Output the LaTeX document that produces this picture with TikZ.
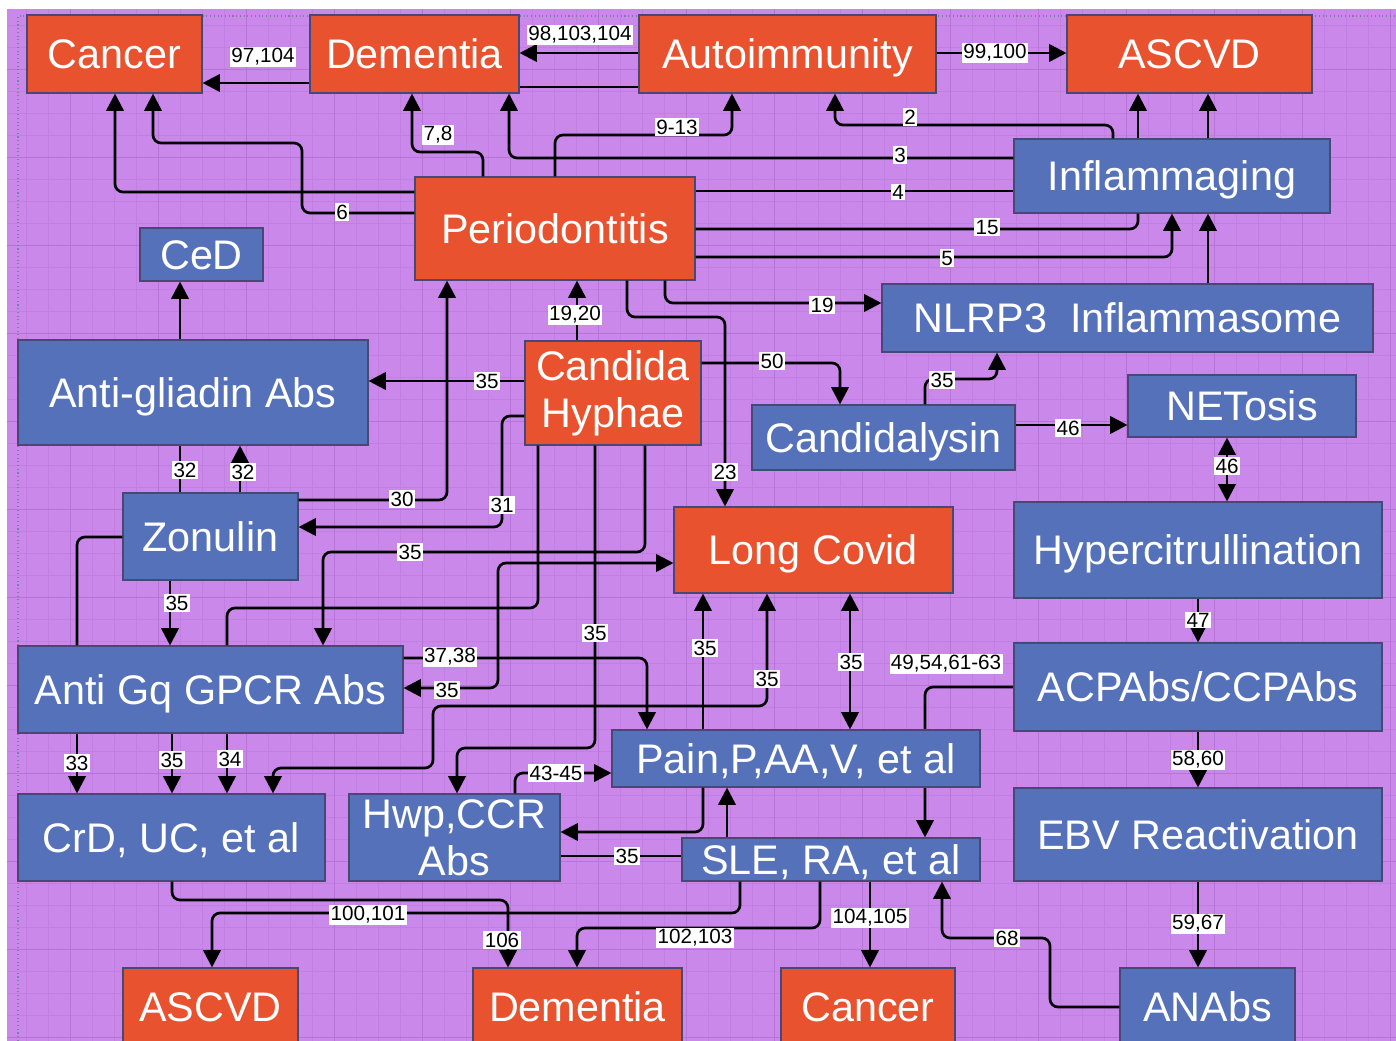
\documentclass[tikz,border=0pt]{standalone}
\usepackage{fontspec}
\setmainfont{Liberation Sans}
\usetikzlibrary{arrows.meta,backgrounds}

\definecolor{redbox}{RGB}{232,82,46}
\definecolor{bluebox}{RGB}{85,113,185}
\definecolor{bgpurple}{RGB}{202,136,235}
\definecolor{gridminor}{RGB}{193,127,226}
\definecolor{gridmajor}{RGB}{182,117,214}
\definecolor{boxedge}{RGB}{70,72,118}

\newcommand{\boxfont}{\fontsize{31}{35}\selectfont}
\newcommand{\lblfont}{\fontsize{15.5}{17}\selectfont}

\tikzset{
  obox/.style={draw=boxedge, line width=0.8pt, fill=redbox, text=white, font=\boxfont, inner sep=0pt, align=center},
  bbox/.style={obox, fill=bluebox},
  oneline/.style={text height=22pt, text depth=0pt},
  arr/.style={line width=2pt, rounded corners=6pt, -{Triangle[length=13pt,width=13pt]}},
  dbl/.style={line width=2pt, rounded corners=6pt, {Triangle[length=13pt,width=13pt]}-{Triangle[length=13pt,width=13pt]}},
  link/.style={line width=2pt, rounded corners=6pt},
  lbl/.style={fill=white, inner sep=1pt, text=black, font=\lblfont},
}

\begin{document}
\begin{tikzpicture}[x=0.75pt,y=0.75pt,yscale=-1,xscale=1]
\clip (0,0) rectangle (1396,1041);

% page and grid
\begin{scope}[on background layer]
\fill[white] (0,0) rectangle (1396,1041);
\fill[bgpurple] (7,9) rectangle (1396,1041);
\foreach \gx in {26,48,...,1396} \draw[gridminor, line width=0.5pt] (\gx,9) -- (\gx,1041);
\foreach \gy in {25,47,...,1041} \draw[gridminor, line width=0.5pt] (7,\gy) -- (1396,\gy);
\foreach \gx in {70,158,...,1396} \draw[gridmajor, line width=0.7pt] (\gx,9) -- (\gx,1041);
\foreach \gy in {69,157,...,1041} \draw[gridmajor, line width=0.7pt] (7,\gy) -- (1396,\gy);
\draw[boxedge!70, dotted, line width=0.8pt] (18,1041) -- (18,16) -- (1396,16);
\end{scope}

% top row
\node[obox, oneline, minimum width=131.25pt, minimum height=58.5pt] (cancerT) at (114.5,54) {Cancer};
\node[obox, oneline, minimum width=156.75pt, minimum height=58.5pt] (demT) at (414.5,54) {Dementia};
\node[obox, oneline, minimum width=222.75pt, minimum height=58.5pt] (autoimm) at (787.5,54) {Autoimmunity};
\node[obox, oneline, minimum width=183.75pt, minimum height=58.5pt] (ascvdT) at (1189.5,54) {ASCVD};

% upper middle
\node[bbox, oneline, minimum width=237pt, minimum height=55.5pt] (inflam) at (1172,176) {Inflammaging};
\node[obox, oneline, minimum width=210pt, minimum height=77.25pt] (perio) at (555,228.5) {Periodontitis};
\node[bbox, oneline, minimum width=92.25pt, minimum height=39.75pt] (ced) at (201.5,254.5) {CeD};
\node[bbox, oneline, minimum width=368.25pt, minimum height=51pt] (nlrp) at (1127.5,318) {NLRP3\ \ Inflammasome};
\node[bbox, oneline, minimum width=262.5pt, minimum height=78.75pt] (antigl) at (193,392.5) {Anti-gliadin Abs};
\node[obox, minimum width=132pt, minimum height=78pt] (candida) at (613,393) {Candida\\Hyphae};
\node[bbox, oneline, minimum width=197.25pt, minimum height=48.75pt] (candly) at (883.5,437.5) {Candidalysin};
\node[bbox, oneline, minimum width=171pt, minimum height=46.5pt] (netosis) at (1242,406) {NETosis};

% lower middle
\node[bbox, oneline, minimum width=131.25pt, minimum height=65.25pt] (zonulin) at (210.5,536.5) {Zonulin};
\node[obox, oneline, minimum width=209.25pt, minimum height=64.5pt] (lcovid) at (813.5,550) {Long Covid};
\node[bbox, oneline, minimum width=276pt, minimum height=72pt] (hyperc) at (1198,550) {Hypercitrullination};
\node[bbox, oneline, minimum width=288.75pt, minimum height=65.25pt] (antigq) at (210.5,689.5) {Anti Gq GPCR Abs};
\node[bbox, oneline, minimum width=276pt, minimum height=66pt] (acpa) at (1198,687) {ACPAbs/CCPAbs};
\node[bbox, oneline, minimum width=276pt, minimum height=42.75pt] (pain) at (796,758.5) {Pain,P,AA,V, et al};
\node[bbox, oneline, minimum width=230.25pt, minimum height=65.25pt] (crd) at (171.5,837.5) {CrD, UC, et al};
\node[bbox, minimum width=158.25pt, minimum height=65.25pt] (hwp) at (454.5,837.5) {Hwp,CCR\\Abs};
\node[bbox, oneline, minimum width=223.5pt, minimum height=32.25pt] (sle) at (831,859.5) {SLE, RA, et al};
\node[bbox, oneline, minimum width=276pt, minimum height=69.75pt] (ebv) at (1198,834.5) {EBV Reactivation};

% bottom row
\node[obox, oneline, minimum width=131.25pt, minimum height=58.5pt] (ascvdB) at (210.5,1007) {ASCVD};
\node[obox, oneline, minimum width=156.75pt, minimum height=58.5pt] (demB) at (577.5,1007) {Dementia};
\node[obox, oneline, minimum width=130.5pt, minimum height=58.5pt] (cancerB) at (868,1007) {Cancer};
\node[bbox, oneline, minimum width=131.25pt, minimum height=58.5pt] (anabs) at (1207.5,1007) {ANAbs};

% top links
\draw[arr] (demT.west |- 0,83) -- (cancerT.east |- 0,83);
\draw[arr] (autoimm.west |- 0,53) -- (demT.east |- 0,53);
\draw[link] (autoimm.west |- 0,87) -- (demT.east |- 0,87);
\draw[arr] (autoimm.east |- 0,53) -- (ascvdT.west |- 0,53);
\draw[arr] (perio.west |- 0,192) -| (cancerT.south -| 115,0);
\draw[arr] (perio.west |- 0,213) -| (302,143) -| (cancerT.south -| 153,0);
\draw[arr] (perio.north -| 483,0) |- (412,152) -- (demT.south -| 412,0);
\draw[arr] (inflam.west |- 0,158) -| (demT.south -| 509,0);
\draw[arr] (perio.north -| 555,0) |- (732,135) -- (autoimm.south -| 732,0);
\draw[arr] (inflam.north -| 1113,0) |- (835,125) -- (autoimm.south -| 835,0);
\draw[link] (perio.east |- 0,191) -- (inflam.west |- 0,191);
\draw[link] (perio.east |- 0,229) -| (inflam.south -| 1138,0);
\draw[arr] (perio.east |- 0,257) -| (inflam.south -| 1172,0);
\draw[arr] (nlrp.north -| 1208,0) -- (inflam.south -| 1208,0);
\draw[arr] (inflam.north -| 1138,0) -- (ascvdT.south -| 1138,0);
\draw[arr] (inflam.north -| 1208,0) -- (ascvdT.south -| 1208,0);
\draw[arr] (perio.south -| 665,0) |- (nlrp.west |- 0,303);
\draw[arr] (candida.north -| 577,0) -- (perio.south -| 577,0);
\draw[arr] (perio.south -| 627,0) |- (725,317) -- (lcovid.north -| 725,0);

% right column
\draw[arr] (candida.east |- 0,363) -| (candly.north -| 840,0);
\draw[arr] (candly.north -| 925,0) |- (997,379) -- (nlrp.south -| 997,0);
\draw[arr] (candly.east |- 0,425) -- (netosis.west |- 0,425);
\draw[dbl] (netosis.south -| 1227,0) -- (hyperc.north -| 1227,0);
\draw[arr] (hyperc.south -| 1198,0) -- (acpa.north -| 1198,0);
\draw[arr] (acpa.south -| 1198,0) -- (ebv.north -| 1198,0);
\draw[arr] (ebv.south -| 1198,0) -- (anabs.north -| 1198,0);
\draw[arr] (anabs.west |- 0,1007) -| (1050,938) -| (sle.south -| 942,0);
\begin{scope}[on background layer]
\draw[arr] (acpa.west |- 0,687) -| (sle.north -| 925,0);
\end{scope}

% Long Covid and Pain
\draw[dbl] (lcovid.south -| 850,0) -- (pain.north -| 850,0);
\draw[arr] (pain.north -| 703,0) -- (lcovid.south -| 703,0);
\draw[arr] (pain.south -| 703,0) |- (hwp.east |- 0,832);
\draw[dbl] (crd.north -| 273,0) |- (433,768) |- (767,706) -- (lcovid.south -| 767,0);
\draw[arr] (candida.south -| 595,0) |- (457,748) -- (hwp.north -| 457,0);
\draw[arr] (sle.north -| 727,0) -- (pain.south -| 727,0);
\draw[link] (sle.west |- 0,856) -- (hwp.east |- 0,856);
\draw[arr] (hwp.north -| 515,0) |- (pain.west |- 0,773);

% left side
\draw[arr] (candida.west |- 0,381) -- (antigl.east |- 0,381);
\draw[arr] (zonulin.east |- 0,500) -| (perio.south -| 447,0);
\draw[arr] (candida.west |- 0,416) -| (502,527) -- (zonulin.east |- 0,527);
\draw[link] (zonulin.north -| 180,0) -- (antigl.south -| 180,0);
\draw[arr] (zonulin.north -| 240,0) -- (antigl.south -| 240,0);
\draw[arr] (antigl.north -| 180,0) -- (ced.south -| 180,0);
\draw[arr] (zonulin.south -| 170,0) -- (antigq.north -| 170,0);
\draw[link] (zonulin.west |- 0,537) -| (antigq.north -| 77,0);
\draw[arr] (candida.south -| 645,0) |- (323,552) -- (antigq.north -| 323,0);
\draw[link] (candida.south -| 538,0) |- (227,608) -- (antigq.north -| 227,0);
\draw[dbl] (antigq.east |- 0,688) -| (498,563) -- (lcovid.west |- 0,563);
\draw[arr] (antigq.east |- 0,658) -| (pain.north -| 647,0);
\draw[arr] (antigq.south -| 77,0) -- (crd.north -| 77,0);
\draw[arr] (antigq.south -| 172,0) -- (crd.north -| 172,0);
\draw[arr] (antigq.south -| 227,0) -- (crd.north -| 227,0);

% bottom links
\draw[arr] (crd.south -| 172,0) |- (508,900) -- (demB.north -| 508,0);
\draw[arr] (sle.south -| 740,0) |- (212,913) -- (ascvdB.north -| 212,0);
\draw[arr] (sle.south -| 820,0) |- (577,928) -- (demB.north -| 577,0);
\draw[arr] (sle.south -| 870,0) -- (cancerB.north -| 870,0);

% Text Node
\node[lbl] (n97) at (263,57) {97,104};
\node[lbl] (n98) at (580,35) {98,103,104};
\node[lbl] (n99) at (995,53) {99,100};
\node[lbl] (n6) at (342,212) {6};
\node[lbl] (n78) at (438,135) {7,8};
\node[lbl] (n3) at (900,155) {3};
\node[lbl] (n913) at (677,127) {9-13};
\node[lbl] (n2) at (910,117) {2};
\node[lbl] (n4) at (898,192) {4};
\node[lbl] (n15) at (987,227) {15};
\node[lbl] (n5) at (947,258) {5};
\node[lbl] (n19) at (822,305) {19};
\node[lbl] (n1920) at (575,315) {19,20};
\node[lbl] (n23) at (725,472) {23};
\node[lbl] (n50) at (772,361) {50};
\node[lbl] (n35ly) at (942,380) {35};
\node[lbl] (n46a) at (1068,428) {46};
\node[lbl] (n46b) at (1227,466) {46};
\node[lbl] (n47) at (1198,620) {47};
\node[lbl] (n5860) at (1198,760) {58,60};
\node[lbl] (n5967) at (1198,924) {59,67};
\node[lbl] (n68) at (1007,938) {68};
\node[lbl] (n49) at (946,664) {49,54,61-63};
\node[lbl] (n35lp) at (851,662) {35};
\node[lbl] (n35pl) at (705,648) {35};
\node[lbl] (n35cl) at (767,679) {35};
\node[lbl] (n35ch) at (595,633) {35};
\node[lbl] (n35ca) at (487,381) {35};
\node[lbl] (n30) at (402,499) {30};
\node[lbl] (n31) at (502,505) {31};
\node[lbl] (n32a) at (185,470) {32};
\node[lbl] (n32b) at (243,472) {32};
\node[lbl] (n35zg) at (177,603) {35};
\node[lbl] (n35cg) at (410,552) {35};
\node[lbl] (n35gl) at (447,690) {35};
\node[lbl] (n3738) at (450,657) {37,38};
\node[lbl] (n33) at (77,763) {33};
\node[lbl] (n35gc) at (172,760) {35};
\node[lbl] (n34) at (230,759) {34};
\node[lbl] (n106) at (502,940) {106};
\node[lbl] (n100) at (368,915) {100,101};
\node[lbl] (n102) at (695,938) {102,103};
\node[lbl] (n104) at (870,918) {104,105};
\node[lbl] (n35sh) at (627,856) {35};
\node[lbl] (n4345) at (556,773) {43-45};

\end{tikzpicture}
\end{document}
